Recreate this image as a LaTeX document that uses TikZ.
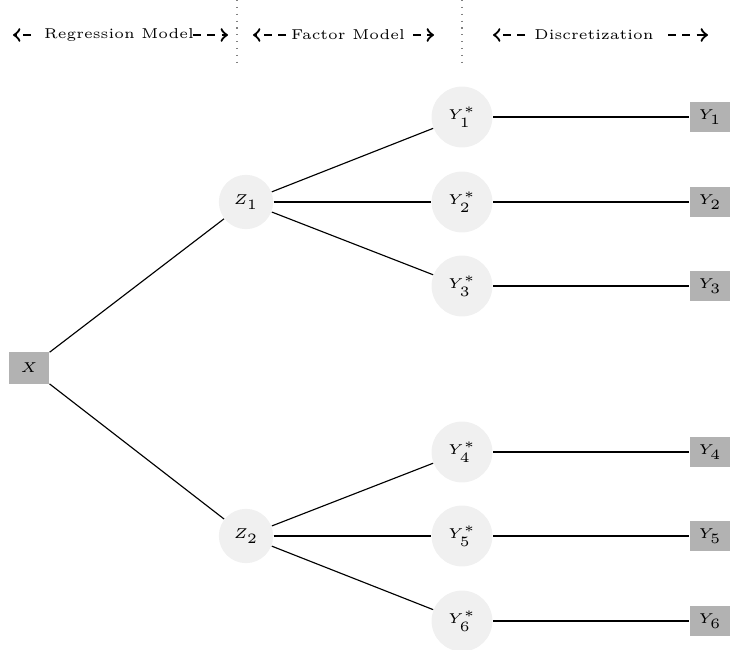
\documentclass[tikz,border=0pt]{standalone}
\usetikzlibrary{positioning}

\tikzset{
  latent/.style={circle,fill=gray!12,inner sep=0pt,minimum size=#1},
  latent/.default=19pt,
  observed/.style={rectangle,fill=gray!60,inner sep=0pt,minimum width=14pt,minimum height=10.5pt},
  hdarrow/.style={->,thick,dash pattern=on 2.8pt off 2.2pt},
  hdtext/.style={inner sep=1pt},
  sep/.style={dotted,gray}
}

\begin{document}
\begin{tikzpicture}[x=0.35pt,y=-0.35pt,font=\tiny]
\useasboundingbox (0,0) rectangle (730,650);
% header
\node[hdtext] (reg) at (119,35) {Regression Model};
\node[hdtext] (fac) at (348,35) {Factor Model};
\node[hdtext] (dis) at (594,35) {Discretization};
\coordinate (regA) at (31,35);
\coordinate (regL) at (13,35);
\coordinate (regB) at (193,35);
\coordinate (regR) at (228,35);
\coordinate (facA) at (286,35);
\coordinate (facL) at (253,35);
\coordinate (facB) at (413,35);
\coordinate (facR) at (434,35);
\coordinate (disA) at (525,35);
\coordinate (disL) at (493,35);
\coordinate (disB) at (668,35);
\coordinate (disR) at (708,35);
\draw[hdarrow] (regA) -- (regL);
\draw[hdarrow] (regB) -- (regR);
\draw[hdarrow] (facA) -- (facL);
\draw[hdarrow] (facB) -- (facR);
\draw[hdarrow] (disA) -- (disL);
\draw[hdarrow] (disB) -- (disR);
\coordinate (s1t) at (237,0);
\coordinate (s1b) at (237,68);
\coordinate (s2t) at (462,0);
\coordinate (s2b) at (462,68);
\draw[sep] (s1t) -- (s1b);
\draw[sep] (s2t) -- (s2b);
% nodes
\node[observed,minimum height=11.2pt] (x) at (29,368) {$X$};
\node[latent] (z1) at (246,202) {$Z_1$};
\node[latent] (z2) at (246,536) {$Z_2$};
\foreach \i/\yy in {1/117,2/202,3/286,4/452,5/536,6/621} {
  \node[latent=21.3pt] (ys\i) at (462,\yy) {$Y_\i^*$};
  \node[observed] (y\i) at (710,\yy) {$Y_\i$};
  \draw (ys\i) -- (y\i);
}
% edges
\draw (x) -- (z1);
\draw (x) -- (z2);
\foreach \i in {1,2,3} \draw (z1) -- (ys\i);
\foreach \i in {4,5,6} \draw (z2) -- (ys\i);
\end{tikzpicture}
\end{document}
